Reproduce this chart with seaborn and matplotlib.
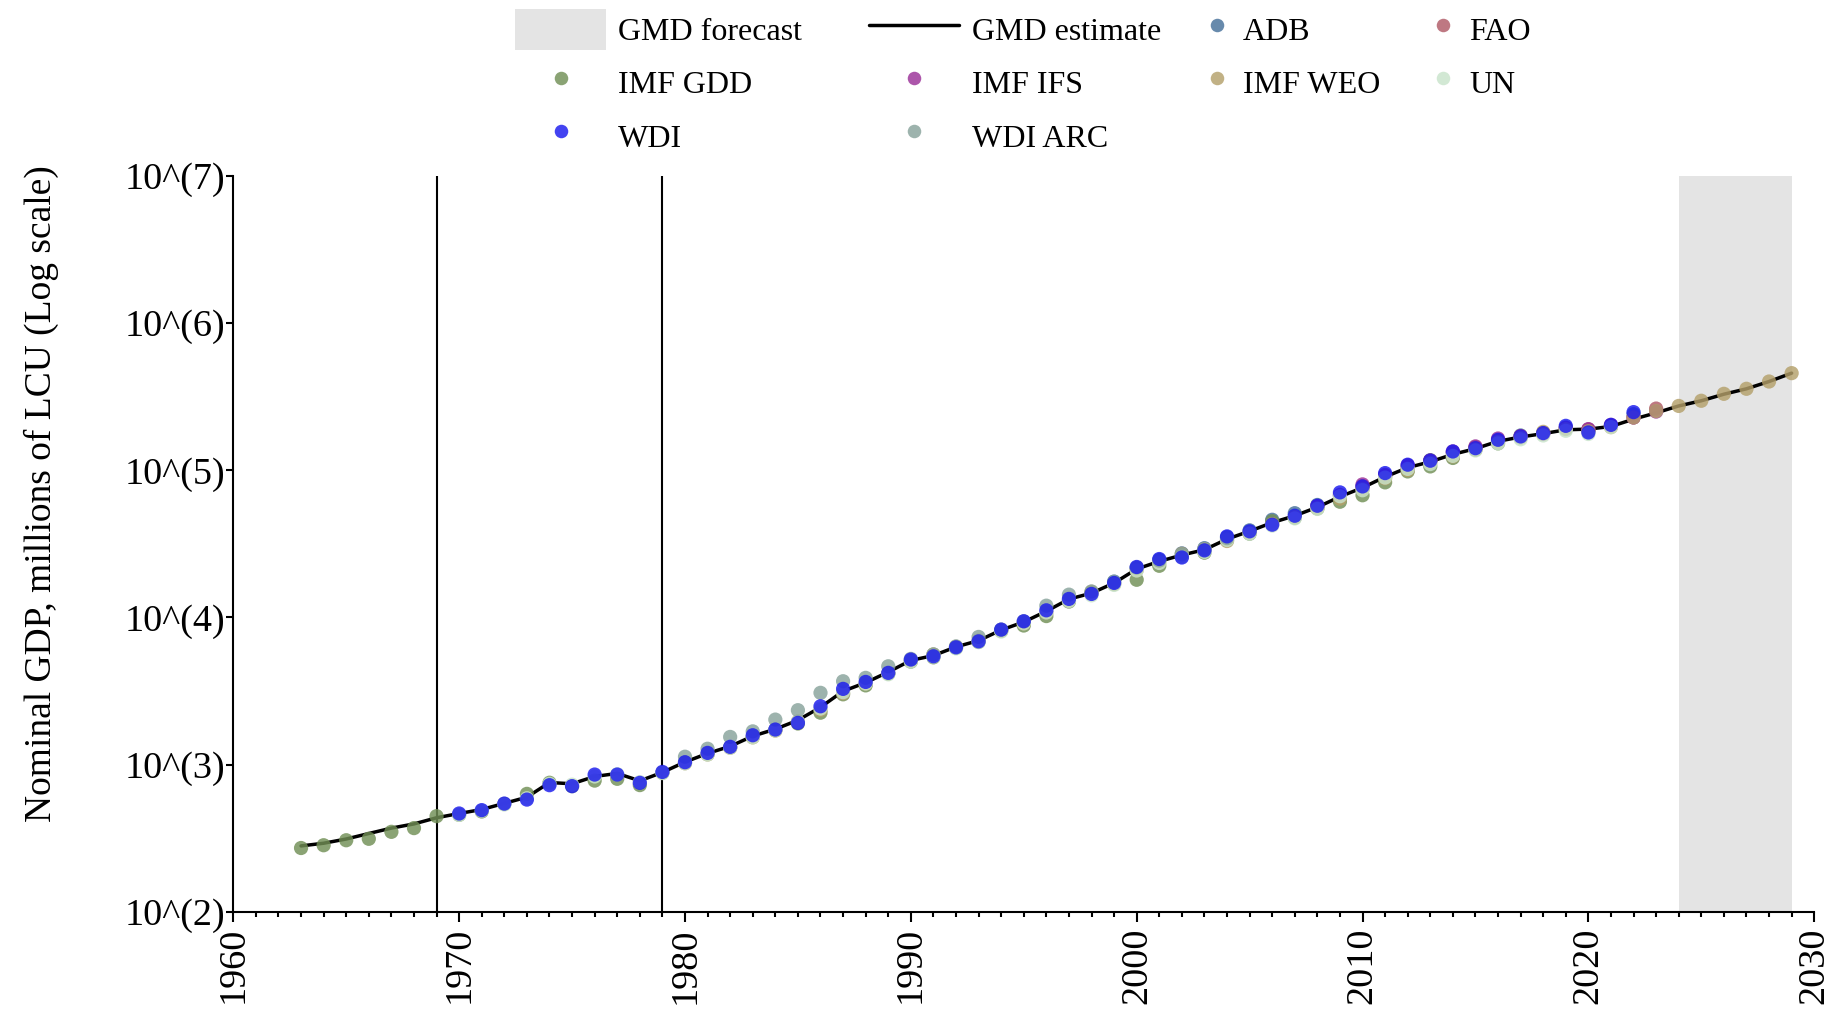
import numpy as np
import pandas as pd
import matplotlib
matplotlib.use("Agg")
import matplotlib.pyplot as plt
import matplotlib.ticker as mticker
import seaborn as sns

# =========================================================
# Data
# =========================================================
gmd_start = 1963
gmd_estimate = [280, 292, 312, 340, 370, 395, 435, 465, 495, 545,
                600, 755, 740, 830, 870, 775, 885, 1040, 1190, 1330,
                1560, 1740, 2000, 2450, 3150, 3600, 4250, 5100, 5500, 6300,
                6950, 8200, 9300, 11000, 13300, 14600, 17100, 21300, 24000, 26500,
                28800, 34000, 38500, 44000, 49000, 56000, 66000, 76000, 90000, 104000,
                114000, 128000, 140000, 157000, 168000, 177000, 188000, 190000, 198000, 222000,
                245000, 273000, 296000, 328000, 357000, 400000, 456000]

adb_start = 1999
adb = [17500, 21600, 24500, 27200, 29500, 35000, 39000, 46000, 51000, 58000,
       67000, 78000, 91000, 106000, 117000, 132000, 143000, 160000, 172000, 178000,
       195000, 186000, 201000, 240000]

fao_start = 2010
fao = [76000, 92000, 103000, 116000, 130000, 142000, 158000, 170000, 176000, 192000,
       189000, 199000, 228000, 262000]

imf_gdd_start = 1963
imf_gdd = [271, 283, 306, 313, 349, 370, 446, 455, 480, 540,
           632, 752, 713, 778, 800, 725, 879, 1030, 1180, 1310,
           1540, 1720, 1900, 2250, 3000, 3450, 4150, 5000, 5350, 6200,
           6800, 8100, 8800, 10200, 12800, 14600, 16900, 18000, 22400, 26000,
           27500, 33500, 37000, 45000, 47500, 55000, 61000, 67500, 82600, 98000,
           106000, 121000, 138000, 152000]

imf_ifs_start = 2008
imf_ifs = [57000, 68000, 80000, 93000, 108000, 116000, 134000, 145000, 164000, 170000,
           179000, 193000, 190000, 203000, 228000, 250000]

imf_weo_start = 1980
imf_weo = [1020, 1170, 1300, 1530, 1700, 1960, 2350, 3050, 3550, 4150,
           5050, 5600, 6300, 6950, 8100, 9100, 10800, 13000, 14900, 16800,
           20900, 23600, 27000, 29000, 33000, 37500, 43000, 48000, 55000, 64000,
           74000, 88000, 100000, 112000, 124000, 138000, 155000, 166000, 182000, 190000,
           184000, 196000, 228000, 252000, 273000, 296000, 330000, 357000, 400000, 456000]

un_start = 1970
un = [455, 485, 535, 590, 740, 730, 830, 860, 760, 875,
      1020, 1170, 1300, 1530, 1710, 1950, 2400, 3100, 3550, 4100,
      5000, 5400, 6150, 6800, 8000, 9100, 10800, 12900, 14100, 16600,
      20800, 23400, 25800, 27800, 33500, 37000, 42000, 47000, 54500, 66500,
      73000, 89000, 102000, 110000, 125000, 136000, 152000, 162000, 172000, 185000,
      176000, 196000]

wdi_arc_start = 1980
wdi_arc = [1130, 1280, 1540, 1680, 2020, 2340, 3070, 3680, 3880, 4650,
           5220, 5600, 6350, 7360, 8260, 9400, 12000, 14260, 15000, 17400,
           21800, 24300, 26800, 29000, 34500]

wdi_start = 1970
wdi = [465, 490, 543, 578, 724, 713, 855, 855, 751, 891,
       1037, 1200, 1319, 1581, 1729, 1919, 2488, 3266, 3641, 4196,
       5167, 5436, 6255, 6868, 8256, 9403, 11160, 13340, 14420, 17130,
       21990, 24900, 25500, 28500, 35470, 38400, 42600, 49000, 57300, 70600,
       77500, 95500, 108900, 115900, 133900, 141000, 160800, 169400, 178600, 200000,
       180300, 203000, 247800]

# draw order (WDI on top)
sources = [
    ("ADB", adb_start, adb),
    ("FAO", fao_start, fao),
    ("IMF GDD", imf_gdd_start, imf_gdd),
    ("IMF IFS", imf_ifs_start, imf_ifs),
    ("IMF WEO", imf_weo_start, imf_weo),
    ("UN", un_start, un),
    ("WDI ARC", wdi_arc_start, wdi_arc),
    ("WDI", wdi_start, wdi),
]

palette = {
    "ADB": "#46709a",
    "FAO": "#b05a66",
    "IMF GDD": "#718f55",
    "IMF IFS": "#9a2f98",
    "IMF WEO": "#b4a06a",
    "UN": "#c9e4cb",
    "WDI": "#1a1aee",
    "WDI ARC": "#88a39b",
}

forecast_span = (2024, 2029)
vlines = [1969, 1979]
xticks = [1960, 1970, 1980, 1990, 2000, 2010, 2020, 2030]
yticks = [1e2, 1e3, 1e4, 1e5, 1e6, 1e7]

# =========================================================
# Frames
# =========================================================
gmd_df = pd.DataFrame({
    "year": list(range(gmd_start, gmd_start + len(gmd_estimate))),
    "value": gmd_estimate,
})

rows = []
for name, start, vals in sources:
    for i, v in enumerate(vals):
        rows.append({"year": start + i, "value": v, "source": name})
src_df = pd.DataFrame(rows)

# =========================================================
# Plot
# =========================================================
sns.set_theme(style="white")
plt.rcParams["font.family"] = ["Liberation Serif", "DejaVu Serif"]
plt.rcParams["text.color"] = "black"
plt.rcParams["axes.labelcolor"] = "black"

fig = plt.figure(figsize=(18.37, 10.17), dpi=100)
ax = fig.add_axes([0.127, 0.1035, 0.8606, 0.7237])

ax.axvspan(*forecast_span, color="#e4e4e4", lw=0, zorder=0, label="GMD forecast")
for v in vlines:
    ax.axvline(v, color="black", lw=1.5, zorder=1)

sns.lineplot(data=gmd_df, x="year", y="value", color="black", linewidth=2.5,
             ax=ax, zorder=2, label="GMD estimate")

sns.scatterplot(data=src_df, x="year", y="value", hue="source", palette=palette,
                s=105, alpha=0.82, linewidth=0, ax=ax, zorder=3)

ax.set_yscale("log")
ax.set_ylim(1e2, 1e7)
ax.set_xlim(1960, 2030)
ax.set_yticks(yticks)
ax.yaxis.set_major_formatter(mticker.FuncFormatter(
    lambda v, _: f"10^({int(round(np.log10(v)))})"))
ax.yaxis.set_minor_locator(mticker.NullLocator())
ax.set_xticks(xticks)
ax.xaxis.set_minor_locator(mticker.MultipleLocator(1))

ax.set_xlabel("")
ax.set_ylabel("Nominal GDP, millions of LCU (Log scale)", fontsize=27, color="black")
ax.yaxis.set_label_coords(-0.110, 0.568)

for side in ["top", "right"]:
    ax.spines[side].set_visible(False)
for side in ["left", "bottom"]:
    ax.spines[side].set_color("black")
    ax.spines[side].set_linewidth(1.5)

ax.tick_params(axis="both", which="major", direction="out", length=7, width=1.5,
               colors="black", labelsize=27.5, left=True, bottom=True)
ax.tick_params(axis="x", which="minor", direction="out", length=3.6, width=1.5,
               colors="black", bottom=True)
ax.tick_params(axis="x", which="major", labelrotation=90, pad=4)
ax.tick_params(axis="y", which="major", length=5, pad=1)
ax.grid(False)

# ------------------------------
# legend: one single-column legend per column so spacing can follow the reference
# ------------------------------
handles, labels = ax.get_legend_handles_labels()
ax.get_legend().remove()
hmap = dict(zip(labels, handles))

legend_cols = [
    (["GMD forecast", "IMF GDD", "WDI"], 0.2806, 2.82, 0.4),
    (["GMD estimate", "IMF IFS", "WDI ARC"], 0.4732, 2.82, 0.4),
    (["ADB", "IMF WEO"], 0.654, 1.0, 0.3),
    (["FAO", "UN"], 0.777, 1.0, 0.3),
]
for keys, x0, hl, pad in legend_cols:
    fig.legend([hmap[k] for k in keys], keys, loc="upper left",
               bbox_to_anchor=(x0, 0.991), ncol=1, frameon=False, fontsize=23,
               handlelength=hl, handleheight=1.6, handletextpad=pad,
               borderpad=0, borderaxespad=0, labelspacing=0.38,
               markerscale=0.95, labelcolor="black")

plt.savefig("out.png", dpi=100)
